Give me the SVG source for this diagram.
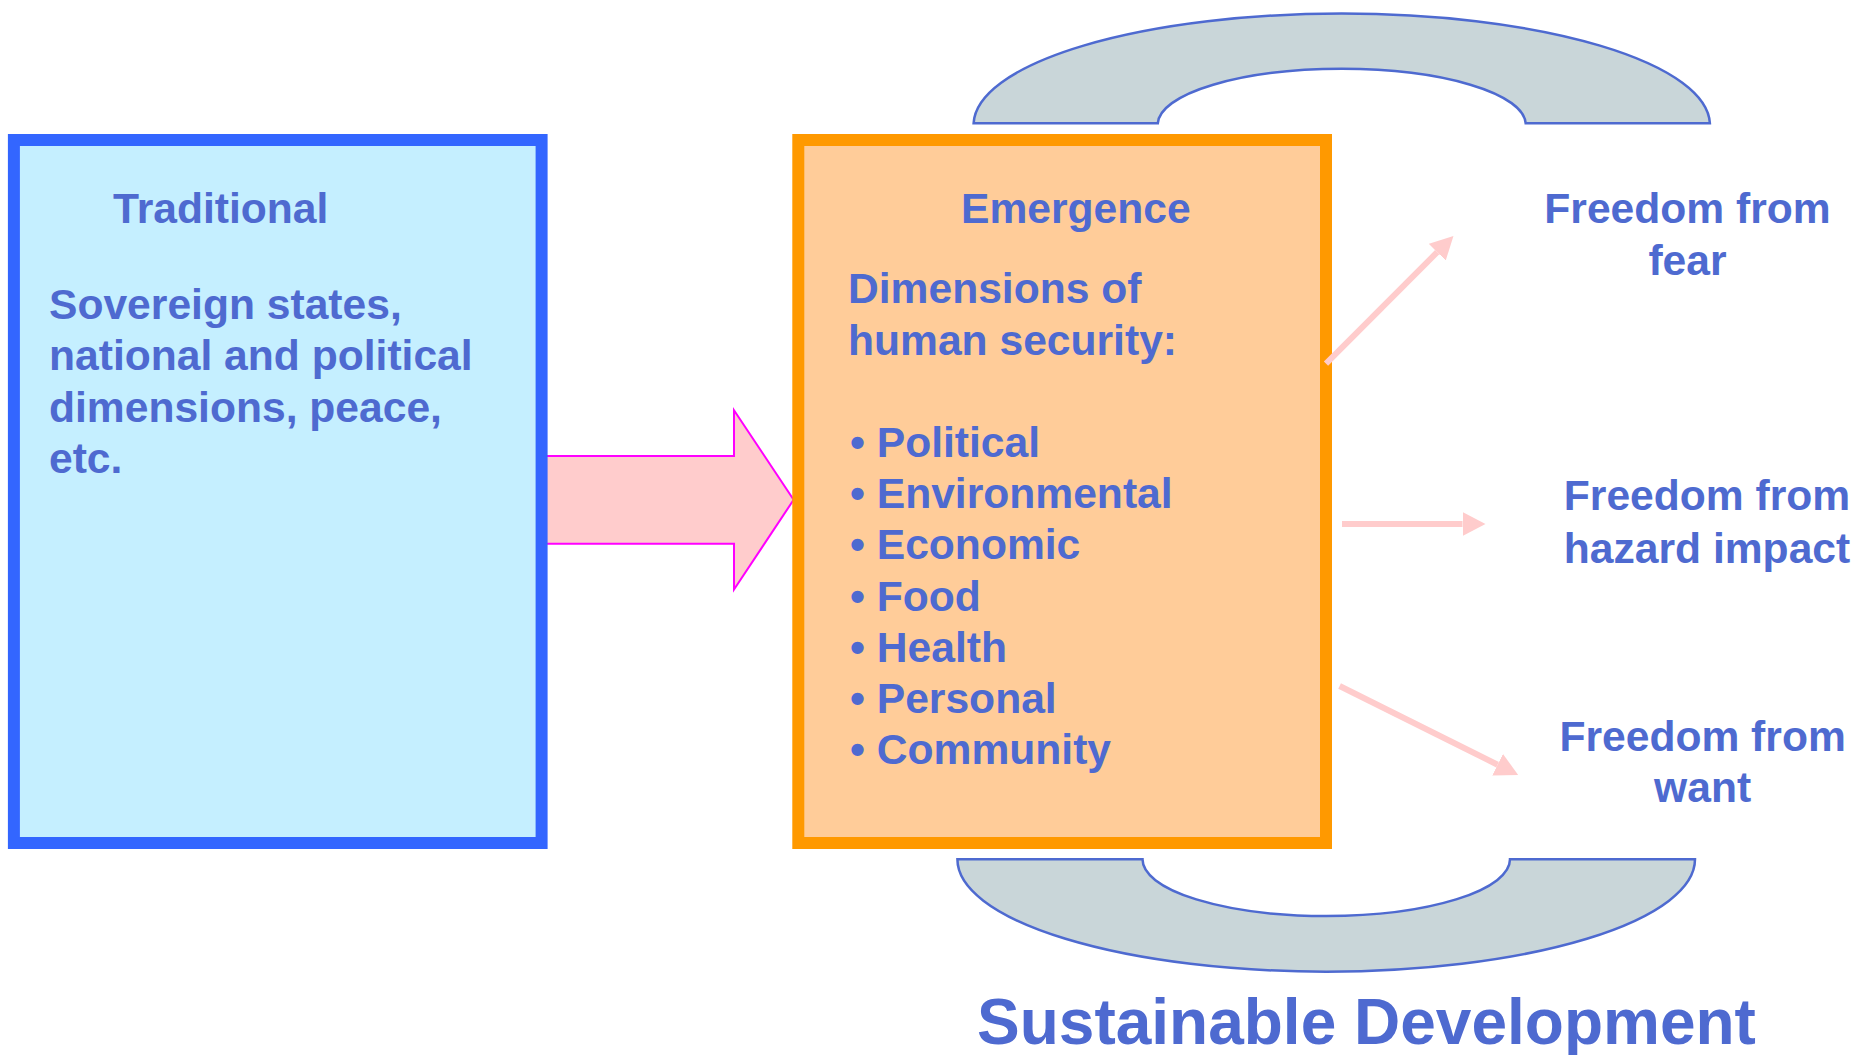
<svg xmlns="http://www.w3.org/2000/svg" width="1854" height="1055" viewBox="0 0 1854 1055">
<style>
.t{font-family:"Liberation Sans",Arial,sans-serif;font-weight:bold;fill:#4E6AD0;font-size:42.6px}
.c{text-anchor:middle}
.arc{fill:#C9D6D9;stroke:#4E6AD0;stroke-width:2.5}
.con{stroke:#FFCCCC;stroke-width:6;fill:none}
</style>
<defs>
<marker id="ah" markerUnits="userSpaceOnUse" viewBox="0 -12 23 24" markerWidth="23" markerHeight="24" refX="0" refY="0" orient="auto">
<path d="M0,-12 L23,0 L0,12 Z" fill="#FFCCCC"/>
</marker>
</defs>
<rect width="1854" height="1055" fill="#FFFFFF"/>
<g id="arc-top">
<path class="arc" d="M973.6,123.3 A368.2,111.6 0 0 1 1709.9,123.3 L1525.7,123.3 A184,55.8 0 0 0 1157.8,123.3 Z"/>
</g>
<g id="arc-bottom">
<path class="arc" d="M957.4,859.3 A368.8,112.4 0 0 0 1695,859.3 L1510,859.3 A183.75,56.7 0 0 1 1142.5,859.3 Z"/>
</g>
<g id="big-arrow">
<polygon points="545,456 734,456 734,410.2 793.6,499.8 734,589.5 734,543.7 545,543.7" fill="#FFCCCC" stroke="#FF00FF" stroke-width="2"/>
</g>
<g id="traditional">
<rect x="13.9" y="140" width="527.7" height="703" fill="#C5EFFF" stroke="#3366FF" stroke-width="12"/>
<text class="t" x="113" y="223">Traditional</text>
<text class="t" x="49" y="319">Sovereign states,</text>
<text class="t" x="49" y="370">national and political</text>
<text class="t" x="49" y="421.5">dimensions, peace,</text>
<text class="t" x="49" y="472.5">etc.</text>
</g>
<g id="emergence">
<rect x="798.3" y="140" width="527.7" height="703" fill="#FFCC99" stroke="#FF9900" stroke-width="12"/>
<text class="t" x="961" y="223">Emergence</text>
<text class="t" x="848" y="303">Dimensions of</text>
<text class="t" x="848" y="354.5">human security:</text>
<text class="t" x="850" y="457.4">• Political</text>
<text class="t" x="850" y="508.4">• Environmental</text>
<text class="t" x="850" y="559.4">• Economic</text>
<text class="t" x="850" y="610.6">• Food</text>
<text class="t" x="850" y="661.6">• Health</text>
<text class="t" x="850" y="712.6">• Personal</text>
<text class="t" x="850" y="763.8">• Community</text>
</g>
<g id="fear">
<text class="t c" x="1687.5" y="223">Freedom from</text>
<text class="t c" x="1687.5" y="274.5">fear</text>
</g>
<g id="hazard">
<text class="t c" x="1707" y="510">Freedom from</text>
<text class="t c" x="1707" y="563">hazard impact</text>
</g>
<g id="want">
<text class="t c" x="1702.6" y="750.5">Freedom from</text>
<text class="t c" x="1702.6" y="801.8">want</text>
</g>
<g id="connectors">
<line class="con" x1="1326" y1="363.6" x2="1437.2" y2="252.2" marker-end="url(#ah)"/>
<line class="con" x1="1342" y1="524" x2="1462.5" y2="524" marker-end="url(#ah)"/>
<line class="con" x1="1339.6" y1="686" x2="1497.6" y2="764.7" marker-end="url(#ah)"/>
</g>
<g id="title">
<text x="977" y="1044" style="font-family:'Liberation Sans',Arial,sans-serif;font-weight:bold;fill:#4E6AD0;font-size:64px">Sustainable Development</text>
</g>
</svg>
